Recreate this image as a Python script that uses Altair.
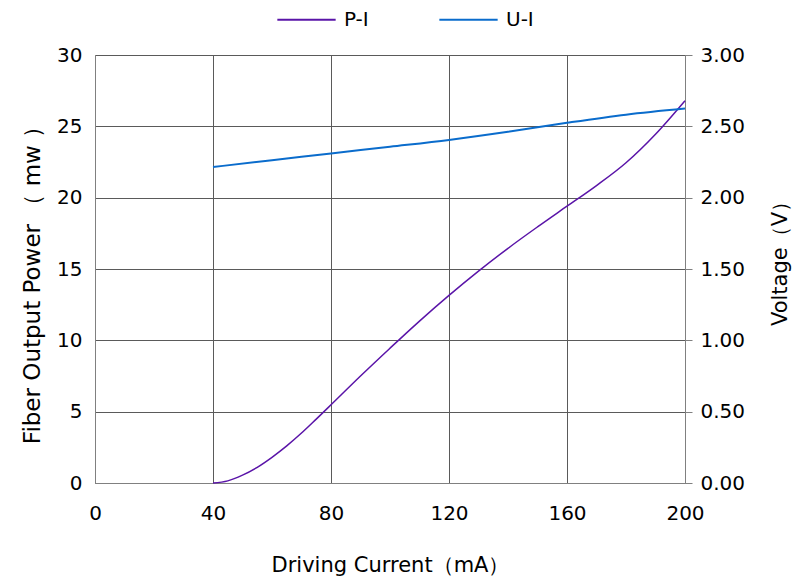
import altair as alt
import pandas as pd

# P-I curve: driving current (mA) vs fiber output power (mW)
pi_current = [40, 45, 50, 55, 60, 65, 70, 75, 80, 90, 100, 110, 120, 130, 140, 150, 160, 170, 180, 190, 200]
pi_power = [0.0, 0.15, 0.55, 1.1, 1.8, 2.6, 3.5, 4.48, 5.48, 7.5, 9.45, 11.35, 13.15, 14.85, 16.45, 17.95, 19.4, 20.85, 22.45, 24.45, 26.8]

# U-I curve: driving current (mA) vs voltage (V)
ui_current = [40, 60, 80, 100, 120, 140, 160, 180, 200]
ui_voltage = [2.215, 2.262, 2.31, 2.357, 2.405, 2.462, 2.525, 2.582, 2.625]

series_names = ["P-I", "U-I"]
series_colors = ["#5a14a8", "#0a6ccc"]

x_ticks = [0, 40, 80, 120, 160, 200]
p_ticks = [0, 5, 10, 15, 20, 25, 30]
v_ticks = [0, 0.5, 1.0, 1.5, 2.0, 2.5, 3.0]

FONT = "DejaVu Sans"

pi_df = pd.DataFrame({"current": pi_current, "value": pi_power, "series": "P-I"})
ui_df = pd.DataFrame({"current": ui_current, "value": ui_voltage, "series": "U-I"})

color = alt.Color(
    "series:N",
    scale=alt.Scale(domain=series_names, range=series_colors),
    legend=alt.Legend(
        title=None,
        orient="none",
        legendX=181,
        legendY=-66,
        direction="horizontal",
        symbolType="stroke",
        symbolSize=3400,
        symbolStrokeWidth=2,
        labelFontSize=20,
        labelFont=FONT,
        labelColor="#000000",
        labelOffset=7,
        columnPadding=66,
    ),
)

x_enc = alt.X(
    "current:Q",
    scale=alt.Scale(domain=[0, 200], nice=False),
    axis=alt.Axis(
        values=x_ticks,
        title="Driving Current（mA）",
        grid=True,
        ticks=False,
        labelFlush=False,
        labelPadding=20,
        titlePadding=31,
    ),
)

pi_line = alt.Chart(pi_df).mark_line(interpolate="monotone", strokeWidth=1.5).encode(
    x=x_enc,
    y=alt.Y(
        "value:Q",
        scale=alt.Scale(domain=[0, 30], nice=False),
        axis=alt.Axis(
            values=p_ticks,
            title="Fiber Output Power （ mw ）",
            titleFontSize=23,
            titleY=224,
            orient="left",
            grid=True,
            ticks=False,
            labelFlush=False,
            labelPadding=13,
            titlePadding=12,
        ),
    ),
    color=color,
)

ui_line = alt.Chart(ui_df).mark_line(interpolate="monotone", strokeWidth=2).encode(
    x=x_enc,
    y=alt.Y(
        "value:Q",
        scale=alt.Scale(domain=[0, 3], nice=False),
        axis=alt.Axis(
            values=v_ticks,
            format=".2f",
            title="Voltage（V）",
            orient="right",
            grid=False,
            ticks=True,
            tickSize=7,
            tickColor="#808080",
            labelFlush=False,
            labelPadding=8,
            titlePadding=46,
            titleAngle=270,
            titleY=203,
        ),
    ),
    color=color,
)

chart = (
    alt.layer(pi_line, ui_line)
    .resolve_scale(y="independent")
    .properties(
        width=590,
        height=428,
        autosize=alt.AutoSizeParams(type="none"),
        padding={"left": 87, "top": 47, "right": 107, "bottom": 97},
    )
    .configure_view(stroke=None)
    .configure_axis(
        domainColor="#808080",
        domainWidth=1,
        gridColor="#5a5a5a",
        gridWidth=1,
        gridOpacity=1,
        labelFont=FONT,
        labelFontSize=20,
        labelColor="#000000",
        titleFont=FONT,
        titleFontSize=21,
        titleFontWeight="normal",
        titleColor="#000000",
    )
)

chart.save("out.html", embed_options={"renderer": "svg", "actions": False})
